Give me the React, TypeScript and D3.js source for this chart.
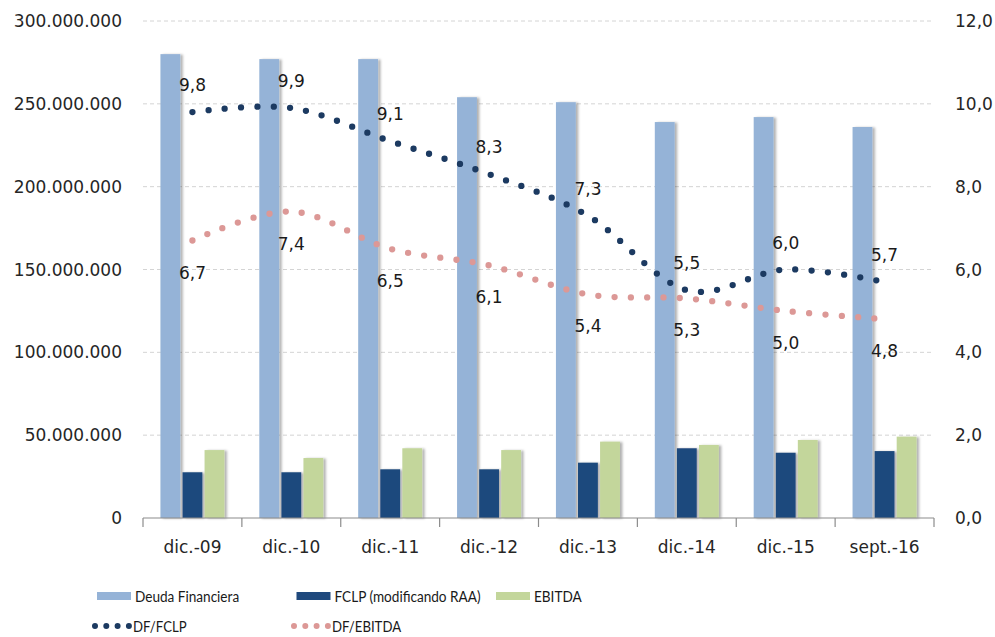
import React from 'react';
import * as d3 from 'd3';

// chart data
const categories = ['dic.-09', 'dic.-10', 'dic.-11', 'dic.-12', 'dic.-13', 'dic.-14', 'dic.-15', 'sept.-16'];
const deudaFinanciera = [280e6, 277e6, 277e6, 254e6, 251e6, 239e6, 242e6, 236e6];
const fclp = [27.6e6, 27.6e6, 29.4e6, 29.4e6, 33.4e6, 42.1e6, 39.4e6, 40.4e6];
const ebitda = [41e6, 36.2e6, 42.1e6, 41e6, 46.1e6, 44.1e6, 47.1e6, 49.1e6];
const dfFclp = [9.8, 9.9, 9.1, 8.3, 7.3, 5.5, 6.0, 5.7];
const dfEbitda = [6.7, 7.4, 6.5, 6.1, 5.4, 5.3, 5.0, 4.8];
const leftTicks = [0, 50e6, 100e6, 150e6, 200e6, 250e6, 300e6];
const rightTicks = [0, 2, 4, 6, 8, 10, 12];
const barSeries = ['Deuda Financiera', 'FCLP (modificando RAA)', 'EBITDA'];
const lineSeries = ['DF/FCLP', 'DF/EBITDA'];

function App() {
    const w = 995,
        h = 637;
    // plot area
    const left = 143,
        right = 934,
        top = 21,
        bottom = 518;

    const colors = ['#95b3d7', '#1f497d', '#c3d69b'];
    const lineColors = ['#1c3a61', '#dc9896'];
    const axisFont = 'DejaVu Sans, Verdana, sans-serif';
    // no condensed font installed, so Lato is squeezed a bit to look like Calibri
    const legendFont = 'Lato, sans-serif';

    const x0 = d3.scaleBand().domain(categories).range([left, right]);
    const x1 = d3.scaleBand().domain(barSeries).range([0, 64]).paddingInner(0.1);
    const groupOffset = (x0.bandwidth() - 64) / 2;

    const yL = d3.scaleLinear().domain([0, 300e6]).range([bottom, top]);
    const yR = d3.scaleLinear().domain([0, 12]).range([bottom, top]);

    const fmtL = (v) => d3.format(',.0f')(v).replace(/,/g, '.');
    const fmtR = (v) => d3.format('.1f')(v).replace('.', ',');

    const barValues = [deudaFinanciera, fclp, ebitda];
    const lineValues = [dfFclp, dfEbitda];

    const cx = (c) => x0(c) + x0.bandwidth() / 2;
    const line = d3.line()
        .x((d, i) => cx(categories[i]))
        .y((d) => yR(d))
        .curve(d3.curveCardinal.tension(0));

    const boundaries = categories.map((c) => x0(c)).concat([right]);

    return (
        <svg width={w} height={h} style={{ position: 'absolute', left: 0, top: 0, background: '#fff' }}>
            <defs>
                <filter id="shadow" x="-20%" y="-5%" width="160%" height="110%">
                    <feDropShadow dx="2.5" dy="0.5" stdDeviation="1" floodColor="#000" floodOpacity="0.3" />
                </filter>
            </defs>

            {/* gridlines */}
            {leftTicks.filter((t) => t > 0).map((t) => (
                <line key={t} x1={left} x2={right} y1={yL(t)} y2={yL(t)}
                    stroke="#d4d4d4" strokeDasharray="4 3" strokeWidth={1} />
            ))}

            {/* left axis labels */}
            {leftTicks.map((t) => (
                <text key={t} x={122} y={yL(t)} textAnchor="end" dominantBaseline="central"
                    fontFamily={axisFont} fontSize={17} fill="#262626">{fmtL(t)}</text>
            ))}

            {/* right axis labels */}
            {rightTicks.map((t) => (
                <text key={t} x={955} y={yR(t)} textAnchor="start" dominantBaseline="central"
                    fontFamily={axisFont} fontSize={17} fill="#262626">{fmtR(t)}</text>
            ))}

            {/* bars */}
            {categories.map((c, i) => (
                <g key={c} transform={`translate(${x0(c) + groupOffset},0)`}>
                    {barSeries.map((s, j) => (
                        <rect key={s} x={x1(s)} width={x1.bandwidth()}
                            y={yL(barValues[j][i])} height={bottom - yL(barValues[j][i])}
                            fill={colors[j]} filter="url(#shadow)" />
                    ))}
                </g>
            ))}

            {/* x axis */}
            <line x1={left} x2={right} y1={bottom} y2={bottom} stroke="#8c8c8c" strokeWidth={1.2} />
            {boundaries.map((b, i) => (
                <line key={i} x1={b} x2={b} y1={bottom} y2={bottom + 9} stroke="#8c8c8c" strokeWidth={1.2} />
            ))}
            {categories.map((c) => (
                <text key={c} x={cx(c)} y={547} textAnchor="middle" dominantBaseline="central"
                    fontFamily={axisFont} fontSize={17} fill="#262626">{c}</text>
            ))}

            {/* dotted ratio lines */}
            {lineValues.map((vals, k) => (
                <path key={k} d={line(vals)} fill="none" stroke={lineColors[k]}
                    strokeWidth={6.3} strokeLinecap="round" strokeDasharray="0 16.3" />
            ))}

            {/* data labels */}
            {dfFclp.map((v, i) => (
                <text key={'a' + i} x={cx(categories[i])} y={yR(v) - 27} textAnchor="middle"
                    dominantBaseline="central" fontFamily={axisFont} fontSize={17} fill="#1a1a1a">{fmtR(v)}</text>
            ))}
            {dfEbitda.map((v, i) => (
                <text key={'b' + i} x={cx(categories[i])} y={yR(v) + 32} textAnchor="middle"
                    dominantBaseline="central" fontFamily={axisFont} fontSize={17} fill="#1a1a1a">{fmtR(v)}</text>
            ))}

            {/* legend */}
            {barSeries.map((s, j) => (
                <g key={s} transform={`translate(${97 + j * 199.5},596)`}>
                    <rect x={0} y={-4} width={34} height={8} fill={colors[j]} />
                    <text transform="translate(38,0) scale(0.85,1)" dominantBaseline="central"
                        fontFamily={legendFont} fontSize={16} fill="#1a1a1a">{s}</text>
                </g>
            ))}
            {lineSeries.map((s, k) => (
                <g key={s} transform={`translate(${95 + k * 199},626)`}>
                    <path d="M0,0H35" stroke={lineColors[k]} strokeWidth={6} strokeLinecap="round"
                        strokeDasharray="0 11.3" />
                    <text transform="translate(38,0) scale(0.85,1)" dominantBaseline="central"
                        fontFamily={legendFont} fontSize={15.5} fill="#1a1a1a">{s}</text>
                </g>
            ))}
        </svg>
    );
}

export default App;
